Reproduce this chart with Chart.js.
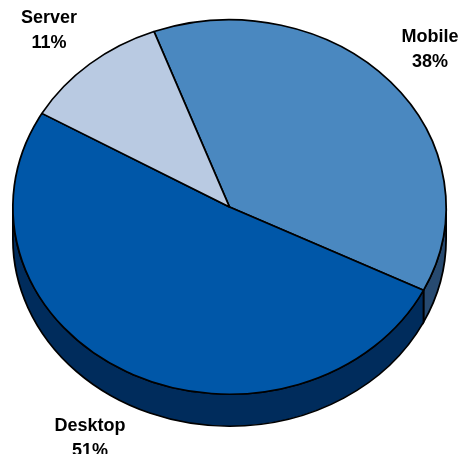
<!DOCTYPE html>
<html>
<head>
<meta charset="utf-8">
<title>Platform share</title>
<script src="https://cdn.jsdelivr.net/npm/chart.js@4/dist/chart.umd.min.js"></script>
<style>
  html, body { margin: 0; padding: 0; background: #fff; overflow: hidden; }
  canvas { display: block; }
</style>
</head>
<body>
<canvas id="myChart" width="461" height="454"></canvas>
<script>
const categories = ['Mobile', 'Desktop', 'Server'];
const shares = [38, 51, 11];
const topColors = ['#4A88C0', '#0057A8', '#B9CAE2'];
const wallColors = ['#274A70', '#002C5C', '#7F8CA0'];
// centre of each two-line label
const labelSpots = [[430, 49], [90, 438], [49, 30]];

// the pie is tilted by squashing it vertically around this centre
const pieCenterY = 207;
const squash = 188 / 217.5;
const depth = 32;

const tiltedPie = {
    id: 'tiltedPie',
    beforeDatasetsDraw(chart) {
        const ctx = chart.ctx;
        const arcs = chart.getDatasetMeta(0).data;
        const cy = arcs[0].y;

        ctx.save();
        ctx.translate(0, pieCenterY);
        ctx.scale(1, squash);
        ctx.translate(0, -cy);

        // side wall, only the part facing the viewer (canvas angles 0 to PI)
        arcs.forEach((arc, i) => {
            const from = Math.max(arc.startAngle, 0);
            const to = Math.min(arc.endAngle, Math.PI);
            if (from >= to) return;
            const r = arc.outerRadius;
            ctx.beginPath();
            ctx.arc(arc.x, cy, r, from, to);
            ctx.arc(arc.x, cy + depth / squash, r, to, from, true);
            ctx.closePath();
            ctx.fillStyle = wallColors[i];
            ctx.fill();
            ctx.lineWidth = 1.8;
            ctx.strokeStyle = '#000';
            ctx.stroke();
        });
    },
    afterDatasetsDraw(chart) {
        chart.ctx.restore();
    },
    afterDraw(chart) {
        const ctx = chart.ctx;
        ctx.save();
        ctx.fillStyle = '#000';
        ctx.font = 'bold 18px "Liberation Sans", Arial, sans-serif';
        ctx.textAlign = 'center';
        ctx.textBaseline = 'middle';
        categories.forEach((name, i) => {
            const [x, y] = labelSpots[i];
            ctx.fillText(name, x, y - 12);
            ctx.fillText(shares[i] + '%', x, y + 13);
        });
        ctx.restore();
    }
};

new Chart(document.getElementById('myChart'), {
    type: 'pie',
    data: {
        labels: categories,
        datasets: [{
            data: shares,
            backgroundColor: topColors,
            borderColor: '#000',
            borderWidth: 1.8
        }]
    },
    options: {
        responsive: false,
        animation: false,
        rotation: -20.4,
        layout: { padding: { left: 12, right: 14, top: 9, bottom: 9 } },
        plugins: {
            legend: { display: false },
            tooltip: { enabled: false }
        }
    },
    plugins: [tiltedPie]
});
</script>
</body>
</html>
